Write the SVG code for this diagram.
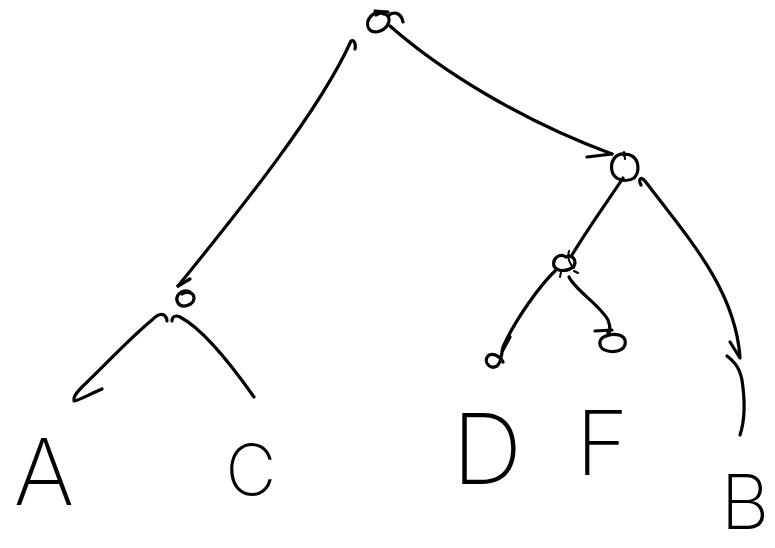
<svg xmlns="http://www.w3.org/2000/svg" width="775" height="548" viewBox="0 0 775 548">
<style>
.s{fill:none;stroke:#000;stroke-width:3.2;stroke-linecap:round;stroke-linejoin:round}
.t{fill:none;stroke:#000;stroke-width:2;stroke-linecap:round}
.lbl{font-family:"Inter","DejaVu Sans",sans-serif;font-weight:200;fill:#000;text-anchor:middle}
</style>
<rect width="775" height="548" fill="#fff"/>
<g id="connectors">
  <path class="s" d="M355,49 C356,44 354,39 351,41 C320,110 240,210 178,286"/>
  <path class="s" d="M178,286 L190,279"/>
  <path class="s" d="M390,26 C440,70 520,120 612,154"/>
  <path class="s" d="M587,157 L612,154"/>
  <path class="s" d="M623,178 C612,195 590,225 572,255"/>
  <path class="s" d="M641,185 C638,179 641,176 645,181 C690,240 735,290 740,357"/>
  <path class="s" d="M730,342 L740,358"/>
  <path class="s" d="M727,356 C732,360 739,365 742,380 C745,400 745,420 740,435"/>
  <path class="s" d="M556,270 C540,285 515,320 503,347 C501,355 502,362 497,366 C490,370 483,362 488,356 C492,352 500,356 503,362"/>
  <path class="s" d="M510,337 L503,350"/>
  <path class="s" d="M569,277 C575,290 600,305 608,320 C611,328 610,332 608,333"/>
  <path class="s" d="M595,331 L612,330"/>
  <path class="s" d="M606,336 C597,339 598,349 608,351 C618,353 627,349 625,340 C623,334 612,333 606,336"/>
  <path class="s" d="M102,389 C92,393 80,400 74,401 C73,398 76,393 82,387 C105,365 130,338 152,320 C157,315 162,313 165,316 C167,318 167,320 167,321"/>
  <path class="s" d="M172,321 C172,316 176,315 180,317 C205,330 235,370 254,397"/>
</g>
<g id="node-root">
  <path class="s" d="M384,14 C373,9 364,21 369,29 C374,35 387,31 389,21 C390,14 381,11 376,15"/>
  <path class="s" d="M375,11 L388,12"/>
  <path class="s" d="M388,16 C393,11 401,12 403,22"/>
</g>
<g id="node-left">
  <path class="s" d="M190,292 C182,288 174,296 178,303 C182,309 194,305 194,298 C194,292 186,291 182,294"/>
</g>
<g id="node-right">
  <path class="s" d="M625,154 C615,153 610,162 612,171 C614,180 626,183 634,178 C640,172 639,160 632,156 C629,154 626,154 624,155"/>
  <path class="t" d="M624,152 L625,159"/>
</g>
<g id="node-mid">
  <path class="s" d="M566,257 C560,253 552,258 554,266 C557,272 568,272 574,266 C577,260 572,254 566,257"/>
  <path class="t" d="M569,251 C567,258 570,264 574,268"/>
  <path class="t" d="M561,272 L560,277 M574,271 L578,273"/>
</g>
<g id="leaf-A"><text class="lbl" x="44" y="505" font-size="92">A</text></g>
<g id="leaf-C"><text class="lbl" x="251" y="495" font-size="70">C</text></g>
<g id="leaf-D"><text class="lbl" x="487" y="484" font-size="98">D</text></g>
<g id="leaf-F"><text class="lbl" x="602" y="475" font-size="90">F</text></g>
<g id="leaf-B"><text class="lbl" x="745" y="529" font-size="76">B</text></g>
</svg>
